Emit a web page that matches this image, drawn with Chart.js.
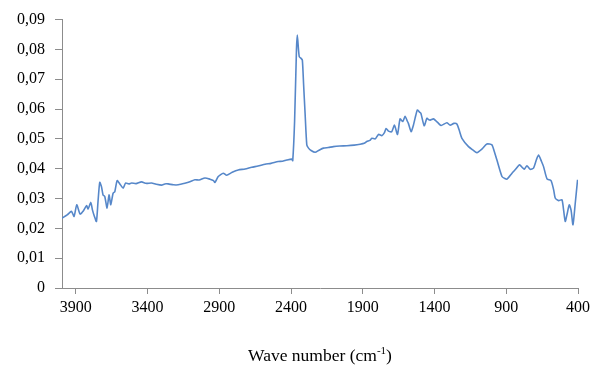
<!DOCTYPE html>
<html>
<head>
<meta charset="utf-8">
<script src="https://cdn.jsdelivr.net/npm/chart.js@4.4.1/dist/chart.umd.min.js"></script>
<style>
  html, body { margin: 0; padding: 0; background: #ffffff; }
  #wrap { width: 595px; height: 367px; }
</style>
</head>
<body>
<div id="wrap"><canvas id="myChart" width="595" height="367"></canvas></div>
<script>
// spectrum (wave number, absorbance)
var wave_number = [3996, 3960, 3930, 3912, 3893, 3870, 3849, 3825, 3814, 3795, 3784, 3770, 3756, 3745, 3733,
    3721, 3710, 3698, 3682, 3668, 3656, 3640, 3628, 3612, 3593, 3570, 3553, 3530, 3511, 3480, 3442, 3410,
    3372, 3340, 3302, 3280, 3256, 3220, 3186, 3140, 3105, 3070, 3040, 3000, 2965, 2940, 2930, 2907, 2872,
    2849, 2810, 2768, 2720, 2674, 2630, 2581, 2540, 2489, 2460, 2430, 2395, 2388, 2375, 2362, 2356, 2348,
    2342, 2330, 2321, 2312, 2302, 2290, 2278, 2260, 2232, 2205, 2174, 2140, 2105, 2060, 2011, 1960, 1918,
    1890, 1872, 1850, 1837, 1813, 1790, 1767, 1750, 1737, 1721, 1698, 1679, 1658, 1640, 1621, 1605, 1590,
    1582, 1563, 1547, 1530, 1519, 1505, 1495, 1472, 1453, 1442, 1430, 1407, 1389, 1372, 1354, 1314, 1291,
    1265, 1244, 1225, 1209, 1163, 1130, 1105, 1070, 1035, 1000, 985, 965, 930, 910, 895, 860, 835, 807,
    790, 775, 756, 733, 710, 690, 675, 655, 640, 616, 588, 570, 558, 535, 512, 500, 489, 475, 461, 448,
    435, 420, 403];
var absorbance = [0.0234, 0.0245, 0.0257, 0.0240, 0.0279, 0.0248, 0.0257, 0.0276, 0.0265, 0.0287, 0.0262,
    0.0240, 0.0223, 0.0290, 0.0354, 0.0340, 0.0312, 0.0307, 0.0268, 0.0312, 0.0279, 0.0318, 0.0323, 0.0360,
    0.0349, 0.0335, 0.0352, 0.0349, 0.0352, 0.0350, 0.0356, 0.0351, 0.0352, 0.0348, 0.0345, 0.0349, 0.0349,
    0.0346, 0.0346, 0.0351, 0.0356, 0.0363, 0.0362, 0.0369, 0.0365, 0.0360, 0.0354, 0.0374, 0.0385, 0.0378,
    0.0388, 0.0396, 0.0399, 0.0405, 0.0409, 0.0415, 0.0418, 0.0424, 0.0425, 0.0429, 0.0432, 0.0427, 0.0560,
    0.0800, 0.0848, 0.0800, 0.0775, 0.0770, 0.0764, 0.0680, 0.0586, 0.0480, 0.0469, 0.0461, 0.0455, 0.0462,
    0.0469, 0.0471, 0.0474, 0.0476, 0.0477, 0.0479, 0.0482, 0.0485, 0.0491, 0.0495, 0.0502, 0.0500, 0.0515,
    0.0511, 0.0520, 0.0535, 0.0526, 0.0524, 0.0546, 0.0515, 0.0567, 0.0558, 0.0576, 0.0560, 0.0552, 0.0524,
    0.0546, 0.0580, 0.0597, 0.0590, 0.0586, 0.0544, 0.0569, 0.0565, 0.0563, 0.0567, 0.0560, 0.0552, 0.0545,
    0.0554, 0.0546, 0.0552, 0.0550, 0.0525, 0.0502, 0.0474, 0.0462, 0.0454, 0.0466, 0.0483, 0.0480, 0.0460,
    0.0429, 0.0374, 0.0367, 0.0365, 0.0385, 0.0398, 0.0413, 0.0405, 0.0398, 0.0410, 0.0398, 0.0402, 0.0430,
    0.0446, 0.0425, 0.0407, 0.0366, 0.0360, 0.0330, 0.0301, 0.0293, 0.0296, 0.0260, 0.0223, 0.0250, 0.0279,
    0.0260, 0.0212, 0.0280, 0.0363];
var x_ticks = [3900, 3400, 2900, 2400, 1900, 1400, 900, 400];
var x_title = 'Wave number (cm';
var x_title_sup = '-1';

var points = [];
for (var i = 0; i < wave_number.length; i++) {
    points.push({x: wave_number[i], y: absorbance[i]});
}

var axisColor = '#8c8c8c';
var tickFont = {family: 'Liberation Serif', size: 16};

// axis title with superscript, drawn under the x axis
var xTitlePlugin = {
    id: 'xTitle',
    afterDraw: function(chart) {
        var ctx = chart.ctx;
        var area = chart.chartArea;
        var mid = (area.left + area.right) / 2;
        var y = 361;
        ctx.save();
        ctx.fillStyle = '#000000';
        ctx.textBaseline = 'alphabetic';
        ctx.font = '17.5px "Liberation Serif"';
        var w1 = ctx.measureText(x_title).width;
        ctx.font = '11px "Liberation Serif"';
        var w2 = ctx.measureText(x_title_sup).width;
        ctx.font = '17.5px "Liberation Serif"';
        var w3 = ctx.measureText(')').width;
        var start = mid - (w1 + w2 + w3) / 2;
        ctx.textAlign = 'left';
        ctx.fillText(x_title, start, y);
        ctx.font = '11px "Liberation Serif"';
        ctx.fillText(x_title_sup, start + w1, y - 7);
        ctx.font = '17.5px "Liberation Serif"';
        ctx.fillText(')', start + w1 + w2, y);
        ctx.restore();
    }
};

var ctx = document.getElementById('myChart');

var myChart = new Chart(ctx, {
    type: 'line',
    data: {
        datasets: [{
            data: points,
            borderColor: '#5687c9',
            borderWidth: 1.6,
            pointRadius: 0,
            tension: 0.2,
            fill: false
        }]
    },
    options: {
        responsive: false,
        animation: false,
        layout: {padding: {left: 0, top: 19, right: 17, bottom: 0}},
        plugins: {
            legend: {display: false},
            tooltip: {enabled: false}
        },
        scales: {
            x: {
                type: 'linear',
                reverse: true,
                min: 400,
                max: 3996,
                afterBuildTicks: function(scale) {
                    scale.ticks = x_ticks.map(function(v) { return {value: v}; });
                },
                afterFit: function(scale) { scale.height = 79; },
                ticks: {
                    color: '#000000',
                    font: tickFont,
                    padding: 4,
                    maxRotation: 0,
                    autoSkip: false,
                    callback: function(v) { return String(v); }
                },
                grid: {drawOnChartArea: false, drawTicks: true, tickLength: 6, color: axisColor},
                border: {color: axisColor, width: 1}
            },
            y: {
                min: 0,
                max: 0.09,
                afterFit: function(scale) { scale.width = 62; },
                ticks: {
                    stepSize: 0.01,
                    color: '#000000',
                    font: tickFont,
                    padding: 10,
                    callback: function(v) {
                        if (Math.abs(v) < 1e-9) return '0';
                        return v.toFixed(2).replace('.', ',');
                    }
                },
                grid: {drawOnChartArea: false, drawTicks: true, tickLength: 7, color: axisColor},
                border: {color: axisColor, width: 1}
            }
        }
    },
    plugins: [xTitlePlugin]
});
</script>
</body>
</html>
